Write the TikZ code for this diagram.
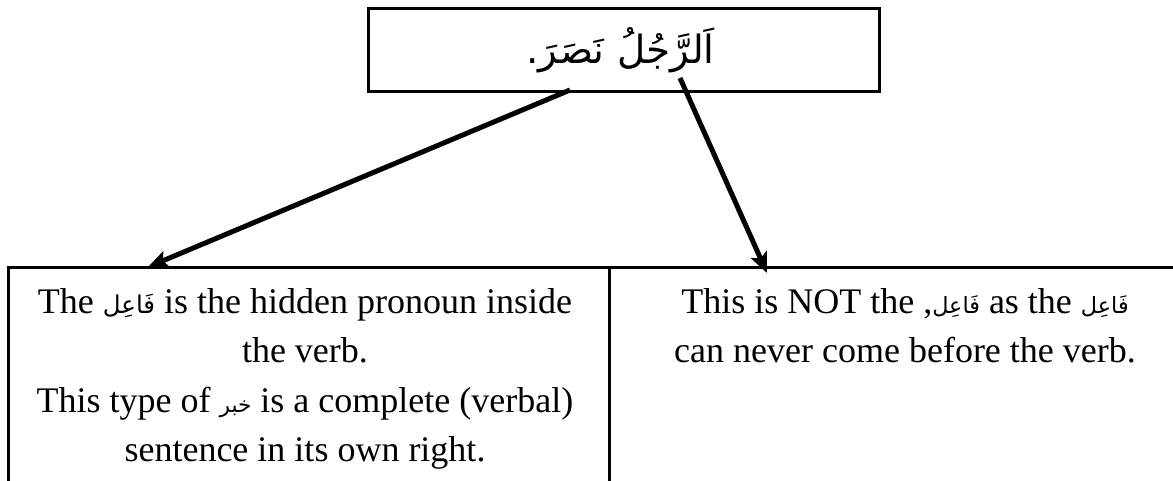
\documentclass[tikz,border=0pt]{standalone}
\usepackage{fontspec}
\setmainfont{Liberation Serif}
\newfontfamily\arabicfont[Script=Arabic,Scale=0.68]{DejaVu Sans}
\newfontfamily\arabicright[Script=Arabic,Scale=0.62]{DejaVu Sans}
\newfontfamily\arabicnarrow[Script=Arabic,Scale=0.6]{DejaVu Sans}
\newfontfamily\arabictitle[Script=Arabic,Scale=1.08]{DejaVu Sans}
\TeXXeTstate=1
\usetikzlibrary{arrows.meta}
\newcommand{\arw}[1]{{\arabicfont\beginR #1\endR}}
\newcommand{\arr}[1]{{\arabicright\beginR #1\endR}}
\newcommand{\arn}[1]{{\arabicnarrow\beginR #1\endR}}
\begin{document}
\begin{tikzpicture}[x=1pt,y=-1pt,
  titlebox/.style={draw,line width=3pt,minimum width=511pt,minimum height=83pt,inner sep=0pt,
    font=\fontsize{36}{40}\selectfont},
  cell/.style={draw,line width=3pt,anchor=north west,minimum height=260pt,inner sep=0pt},
  txt/.style={align=center,inner sep=0pt,anchor=north,font=\fontsize{36}{49.5}\selectfont},
  arr/.style={line width=5pt,-{Stealth[length=20pt,width=17pt,inset=4pt]}}]
\useasboundingbox (0,0) rectangle (1173,481);
\node[titlebox] (sent) at (623.5,50.5) {{\arabictitle\beginR اَلرَّجُلُ نَصَرَ.\endR}\hspace*{6pt}};
\node[cell,minimum width=601pt] (leftcell) at (7,266) {};
\node[cell,minimum width=600pt] (rightcell) at (608,266) {};
\node[txt] (lefttext) at (305,288) {The \arw{فَاعِل} is the hidden pronoun inside\\
the verb.\\
This type of \arn{خبر} is a complete (verbal)\\
sentence in its own right.};
\node[txt] (righttext) at (905,288) {This is NOT the ,\arr{فَاعِل} as the \arr{فَاعِل}\\
can never come before the verb.};
\coordinate (a1s) at (570,90);
\coordinate (a1e) at (148,267);
\coordinate (a2s) at (680,78);
\coordinate (a2e) at (767,273);
\draw[arr] (a1s) -- (a1e);
\draw[arr] (a2s) -- (a2e);
\end{tikzpicture}
\end{document}
